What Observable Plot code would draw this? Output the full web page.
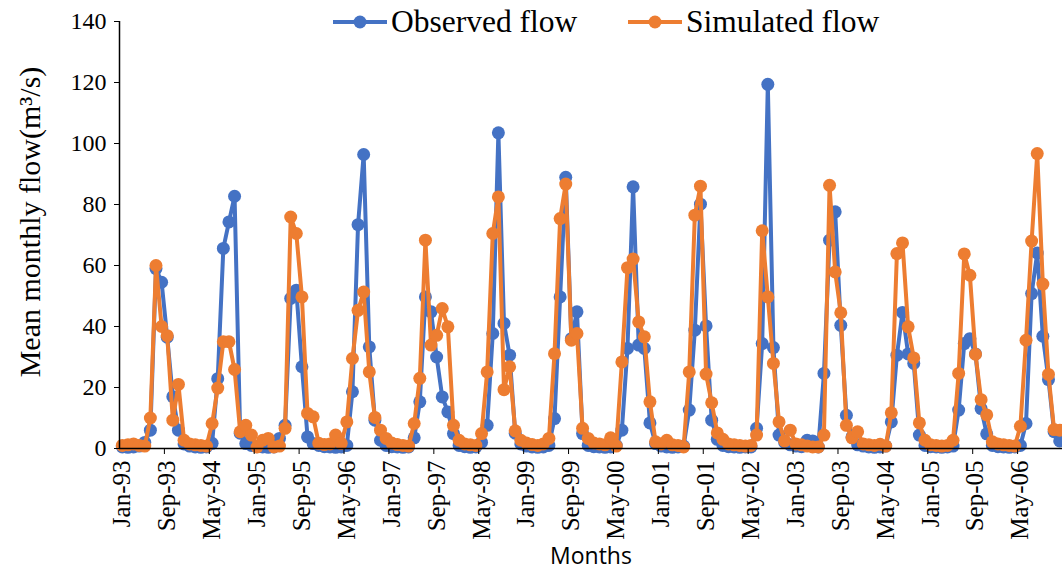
<!DOCTYPE html>
<html>
<head>
<meta charset="utf-8">
<script src="https://cdn.jsdelivr.net/npm/d3@7"></script>
<script src="https://cdn.jsdelivr.net/npm/@observablehq/plot@0.6"></script>
<style>
  html, body { margin: 0; padding: 0; background: #fff; }
  #chart { position: relative; width: 1062px; height: 571px; }
  .legend-item { position: absolute; top: 4px; display: flex; align-items: center;
    font-family: "Liberation Serif", "Times New Roman", serif; font-size: 31.5px; color: #000; white-space: nowrap; }
  .legend-item svg { display: block; margin-right: 4px; }
</style>
</head>
<body>
<div id="chart"></div>
<script>
// Mean monthly flow (m³/s), one value per month from Jan 1993 to Dec 2006
const observed = [
  0.5, 0.4, 0.5, 0.8, 2.0, 6.0, 59.0, 54.5, 36.5, 17.0, 6.0, 1.5,      // 1993
  0.8, 0.5, 0.4, 0.5, 1.7, 22.9, 65.6, 74.3, 82.7, 5.0, 1.6, 1.0,      // 1994
  0.6, 0.5, 0.4, 0.5, 3.3, 7.6, 49.2, 51.9, 26.8, 3.8, 1.6, 1.0,       // 1995
  0.6, 0.5, 0.4, 0.5, 1.0, 18.6, 73.4, 96.4, 33.3, 9.3, 2.7, 1.0,      // 1996
  0.6, 0.5, 0.4, 0.5, 3.5, 15.3, 49.7, 44.8, 30.0, 16.9, 12.0, 4.9,    // 1997
  1.0, 0.6, 0.4, 0.5, 2.0, 7.6, 37.7, 103.5, 41.0, 30.6, 5.0, 1.5,     // 1998
  0.8, 0.5, 0.4, 0.5, 1.0, 9.8, 49.7, 88.9, 36.0, 44.8, 4.9, 1.0,      // 1999
  0.6, 0.5, 0.4, 0.5, 1.0, 6.0, 32.8, 85.8, 33.9, 32.8, 8.4, 1.6,      // 2000
  0.8, 0.5, 0.4, 0.5, 0.8, 12.6, 38.8, 80.1, 40.2, 9.3, 3.0, 1.0,      // 2001
  0.6, 0.5, 0.4, 0.5, 0.5, 6.6, 34.4, 119.4, 33.1, 4.4, 2.0, 1.2,      // 2002
  0.8, 0.6, 2.7, 2.5, 0.5, 24.6, 68.3, 77.6, 40.4, 10.9, 3.8, 1.2,     // 2003
  0.8, 0.5, 0.4, 0.5, 0.8, 8.7, 30.6, 44.6, 31.0, 27.9, 4.4, 1.0,      // 2004
  0.6, 0.5, 0.4, 0.5, 0.8, 12.6, 34.4, 36.0, 31.0, 13.1, 4.8, 1.0,     // 2005
  0.6, 0.5, 0.4, 0.5, 1.0, 8.2, 50.8, 64.1, 36.8, 22.6, 5.5, 2.5       // 2006
];
const simulated = [
  1.0, 1.2, 1.5, 1.0, 0.8, 10.0, 60.0, 40.0, 37.0, 9.3, 21.0, 2.7,     // 1993
  1.5, 1.2, 1.0, 0.8, 8.2, 19.8, 35.0, 35.0, 25.9, 5.5, 7.6, 4.4,      // 1994
  0.5, 2.7, 3.3, 0.5, 0.8, 6.6, 75.9, 70.5, 49.7, 11.5, 10.4, 1.7,     // 1995
  1.3, 1.5, 4.4, 1.7, 8.7, 29.5, 45.3, 51.3, 25.1, 10.2, 6.0, 3.3,     // 1996
  1.8, 1.3, 1.0, 0.8, 8.2, 23.0, 68.3, 33.9, 37.1, 45.9, 39.9, 7.6,    // 1997
  2.7, 1.5, 1.2, 1.0, 4.9, 25.1, 70.5, 82.5, 19.3, 26.8, 5.8, 2.7,     // 1998
  1.8, 1.3, 1.0, 1.5, 3.3, 31.1, 75.4, 86.7, 35.5, 37.7, 6.6, 3.3,     // 1999
  1.8, 1.5, 1.2, 3.5, 0.8, 28.4, 59.3, 62.1, 41.5, 36.6, 15.3, 2.2,    // 2000
  1.5, 2.7, 1.2, 1.0, 0.5, 25.1, 76.5, 86.0, 24.4, 15.0, 5.1, 3.0,     // 2001
  1.5, 1.2, 1.0, 0.8, 1.0, 4.4, 71.4, 49.7, 27.9, 8.7, 2.5, 6.0,       // 2002
  1.5, 1.2, 0.8, 0.5, 0.5, 4.4, 86.3, 57.9, 44.5, 7.6, 3.5, 5.5,       // 2003
  1.5, 1.2, 1.0, 1.4, 0.8, 11.7, 63.9, 67.4, 39.9, 29.7, 8.4, 2.7,     // 2004
  1.2, 1.0, 0.8, 1.0, 2.7, 24.6, 63.8, 56.8, 30.9, 16.0, 11.0, 2.2,    // 2005
  1.5, 1.2, 1.0, 0.8, 7.3, 35.5, 68.0, 96.7, 53.9, 24.3, 6.2, 6.0      // 2006
];
const seriesNames = ["Observed flow", "Simulated flow"];
const seriesColors = ["#4472C4", "#ED7D31"];
// Category labels, every eighth month starting at Jan-93
const tickLabels = [
  "Jan-93", "Sep-93", "May-94", "Jan-95", "Sep-95", "May-96", "Jan-97",
  "Sep-97", "May-98", "Jan-99", "Sep-99", "May-00", "Jan-01", "Sep-01",
  "May-02", "Jan-03", "Sep-03", "May-04", "Jan-05", "Sep-05", "May-06"
];
const yTicks = [0, 20, 40, 60, 80, 100, 120, 140];
const labelStep = 8;
const monthCount = observed.length;

const rows = [];
[observed, simulated].forEach((values, s) =>
  values.forEach((flow, i) => rows.push({month: i, series: seriesNames[s], flow}))
);
const labelRows = tickLabels.map((label, k) => ({month: k * labelStep, label}));
const boundaryTicks = d3.range(labelStep, monthCount, labelStep);

const serif = "'Liberation Serif', 'Times New Roman', serif";
const mid = d => d.month + 0.5;   // each month sits in the middle of its category slot

const seriesMarks = seriesNames.flatMap((name, s) => {
  const data = rows.filter(d => d.series === name);
  return [
    Plot.line(data, {x: mid, y: "flow", stroke: seriesColors[s], strokeWidth: 4}),
    Plot.dot(data, {x: mid, y: "flow", fill: seriesColors[s], r: 6.5})
  ];
});

const chart = Plot.plot({
  width: 1062,
  height: 571,
  marginLeft: 119,
  marginRight: 0,
  marginTop: 21,
  marginBottom: 123,
  style: {background: "#fff", overflow: "hidden"},
  x: {type: "linear", domain: [0, monthCount], axis: null},
  y: {type: "linear", domain: [0, 140], axis: null},
  marks: [
    ...seriesMarks,
    Plot.ruleX([0], {stroke: "#000", strokeWidth: 1.5}),
    Plot.ruleY([0], {stroke: "#000", strokeWidth: 1.5}),
    Plot.axisY({ticks: yTicks, tickSize: 5, tickPadding: 8, tickFormat: d => String(d),
      fontSize: 24, fontFamily: serif, color: "#000", label: null}),
    Plot.axisX({ticks: boundaryTicks, tickSize: 6, tickFormat: () => "", label: null, color: "#000"}),
    Plot.text(labelRows, {x: mid, y: 0, text: "label", rotate: -90, textAnchor: "end",
      dy: 12, fontSize: 25, fontFamily: serif, fill: "#000"}),
    Plot.text(["Mean monthly flow(m³/s)"], {frameAnchor: "left", textAnchor: "middle", rotate: -90,
      dx: -89, dy: -13, fontSize: 30, fontFamily: serif, fill: "#000"}),
    Plot.text(["Months"], {frameAnchor: "bottom", lineAnchor: "middle", dy: 108,
      fontSize: 23, fontFamily: "'Open Sans', 'Liberation Sans', sans-serif", fill: "#000"})
  ]
});

const host = document.getElementById("chart");
host.appendChild(chart);

// Legend: a short line with a marker, followed by the series name
const legendLeft = [333, 628];
seriesNames.forEach((name, s) => {
  const item = document.createElement("div");
  item.className = "legend-item";
  item.style.left = legendLeft[s] + "px";
  const sw = d3.create("svg").attr("width", 54).attr("height", 16);
  sw.append("line").attr("x1", 0).attr("x2", 54).attr("y1", 8).attr("y2", 8)
    .attr("stroke", seriesColors[s]).attr("stroke-width", 4);
  sw.append("circle").attr("cx", 27).attr("cy", 8).attr("r", 6.5).attr("fill", seriesColors[s]);
  item.appendChild(sw.node());
  const span = document.createElement("span");
  span.textContent = name;
  item.appendChild(span);
  host.appendChild(item);
});
</script>
</body>
</html>
